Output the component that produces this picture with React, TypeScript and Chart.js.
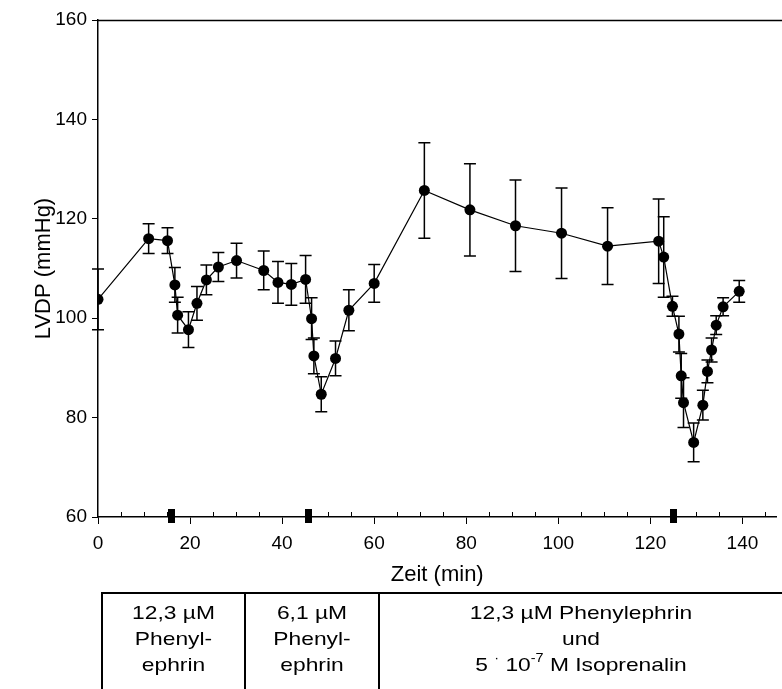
import React, { useEffect, useRef } from "react";
import { Chart, registerables } from "chart.js";

Chart.register(...registerables);

// Time (min) of each measurement
const times = [
  0, 11, 15.1, 16.7, 17.3, 19.65, 21.5, 23.55, 26.15, 30.1, 36.0, 39.1, 42.0, 45.1,
  46.4, 46.9, 48.5, 51.6, 54.5, 60.0, 70.9, 80.8, 90.7, 100.7, 110.7, 121.8, 122.9,
  124.8, 126.2, 126.7, 127.2, 129.4, 131.4, 132.4, 133.3, 134.3, 135.8, 139.3,
];
// LVDP mean (mmHg)
const lvdp = [
  103.8, 116.0, 115.6, 106.7, 100.6, 97.7, 103.0, 107.7, 110.3, 111.6, 109.6, 107.2,
  106.8, 107.8, 99.9, 92.4, 84.7, 91.9, 101.6, 107.0, 125.7, 121.8, 118.6, 117.1,
  114.5, 115.5, 112.3, 102.4, 96.8, 88.4, 83.0, 75.0, 82.5, 89.3, 93.6, 98.6, 102.3,
  105.4,
];
// error (mmHg)
const errs = [
  6.1, 3.0, 2.6, 3.5, 3.6, 3.6, 3.4, 3.0, 2.9, 3.5, 3.9, 4.2, 4.2, 4.8, 4.2, 3.6, 3.5,
  3.5, 4.1, 3.8, 9.6, 9.3, 9.2, 9.1, 7.7, 8.5, 8.1, 2.0, 3.6, 4.5, 5.0, 3.9, 3.0, 2.3,
  2.4, 1.9, 1.8, 2.2,
];
// drug application marks on the time axis
const applicationTimes = [16.0, 45.8, 125.0];

const xTickValues = [0, 20, 40, 60, 80, 100, 120, 140];
const yTickValues = [60, 80, 100, 120, 140, 160];

const table1 = ["12,3 µM", "Phenyl-", "ephrin"];
const table2 = ["6,1 µM", "Phenyl-", "ephrin"];
const table3Line1 = "12,3 µM Phenylephrin";
const table3Line2 = "und";

const FONT = "'Liberation Sans', Arial, Helvetica, sans-serif";
const STRETCH = 1.2;

export default function App() {
  const ref = useRef<HTMLCanvasElement | null>(null);

  useEffect(() => {
    const canvas = ref.current;
    if (!canvas) return;

    const errorBars = {
      id: "errorBars",
      beforeDatasetsDraw(chart: any) {
        const { ctx } = chart;
        const xs = chart.scales.x;
        const ys = chart.scales.y;
        ctx.save();
        ctx.strokeStyle = "#000";
        ctx.lineWidth = 1.5;
        for (let i = 0; i < times.length; i++) {
          const x = xs.getPixelForValue(times[i]);
          const yt = ys.getPixelForValue(lvdp[i] + errs[i]);
          const yb = ys.getPixelForValue(lvdp[i] - errs[i]);
          ctx.beginPath();
          ctx.moveTo(x, yt);
          ctx.lineTo(x, yb);
          ctx.moveTo(x - 6, yt);
          ctx.lineTo(x + 6, yt);
          ctx.moveTo(x - 6, yb);
          ctx.lineTo(x + 6, yb);
          ctx.stroke();
        }
        ctx.restore();
      },
    };

    const extras = {
      id: "extras",
      afterDraw(chart: any) {
        const { ctx, chartArea } = chart;
        const xs = chart.scales.x;
        ctx.save();
        ctx.strokeStyle = "#000";
        ctx.fillStyle = "#000";
        // top frame line
        ctx.lineWidth = 1.5;
        ctx.beginPath();
        ctx.moveTo(chartArea.left, chartArea.top + 0.5);
        ctx.lineTo(chart.width, chartArea.top + 0.5);
        ctx.stroke();
        // minor ticks (inward)
        ctx.lineWidth = 1;
        ctx.beginPath();
        for (let t = 5; t <= xs.max; t += 5) {
          if (t % 20 === 0) continue;
          const x = Math.round(xs.getPixelForValue(t)) + 0.5;
          ctx.moveTo(x, chartArea.bottom);
          ctx.lineTo(x, chartArea.bottom - 5);
        }
        ctx.stroke();
        // application marks
        for (const t of applicationTimes) {
          const x = xs.getPixelForValue(t);
          ctx.fillRect(Math.round(x - 3.5), chartArea.bottom - 8, 7, 14);
        }
        // table
        const top = 593;
        const cols = [102, 245, 379];
        ctx.lineWidth = 2;
        ctx.beginPath();
        ctx.moveTo(cols[0] - 1, top);
        ctx.lineTo(chart.width + 2, top);
        for (const c of cols) {
          ctx.moveTo(c, top);
          ctx.lineTo(c, chart.height + 2);
        }
        ctx.stroke();

        const normal = `19px ${FONT}`;
        const sup = `12px ${FONT}`;
        const drawText = (s: string, cx: number, cy: number, font: string, align: CanvasTextAlign) => {
          ctx.save();
          ctx.font = font;
          ctx.textAlign = align;
          ctx.textBaseline = "middle";
          ctx.translate(cx, cy);
          ctx.scale(STRETCH, 1);
          ctx.fillText(s, 0, 0);
          ctx.restore();
        };
        const rowsY = [614, 640, 666];
        const c1 = (cols[0] + cols[1]) / 2;
        const c2 = (cols[1] + cols[2]) / 2;
        const c3 = 581;
        table1.forEach((s, i) => drawText(s, c1, rowsY[i], normal, "center"));
        table2.forEach((s, i) => drawText(s, c2, rowsY[i], normal, "center"));
        drawText(table3Line1, c3, rowsY[0], normal, "center");
        drawText(table3Line2, c3, rowsY[1], normal, "center");
        // "5 · 10^-7 M Isoprenalin"
        const parts: [string, boolean][] = [
          ["5 ", false],
          ["·", true],
          [" 10", false],
          ["-7", true],
          [" M Isoprenalin", false],
        ];
        let total = 0;
        for (const [s, isSup] of parts) {
          ctx.font = isSup ? sup : normal;
          total += ctx.measureText(s).width * STRETCH;
        }
        let x = c3 - total / 2;
        for (const [s, isSup] of parts) {
          const f = isSup ? sup : normal;
          drawText(s, x, isSup ? rowsY[2] - 7 : rowsY[2], f, "left");
          ctx.font = f;
          x += ctx.measureText(s).width * STRETCH;
        }
        ctx.restore();
      },
    };

    const chart = new Chart(canvas, {
      type: "scatter",
      data: {
        datasets: [
          {
            data: times.map((t, i) => ({ x: t, y: lvdp[i] })),
            showLine: true,
            borderColor: "#000",
            borderWidth: 1.2,
            backgroundColor: "#000",
            pointBackgroundColor: "#000",
            pointBorderColor: "#000",
            pointRadius: 5.5,
            pointBorderWidth: 0,
            tension: 0,
          },
        ],
      },
      options: {
        animation: false,
        responsive: false,
        devicePixelRatio: 1,
        layout: { padding: { left: 0, right: 0, top: 20, bottom: 96 } },
        plugins: {
          legend: { display: false },
          tooltip: { enabled: false },
        },
        scales: {
          x: {
            type: "linear",
            min: 0,
            max: 147.4,
            afterFit(scale: any) {
              scale.height = 76;
            },
            afterBuildTicks(scale: any) {
              scale.ticks = xTickValues.map((v) => ({ value: v }));
            },
            ticks: {
              color: "#000",
              font: { family: FONT, size: 19 },
              padding: 8,
              maxRotation: 0,
              autoSkip: false,
              includeBounds: false,
            },
            grid: {
              drawOnChartArea: false,
              drawTicks: true,
              tickLength: 7,
              color: "#000",
              lineWidth: 1,
            },
            border: { display: true, color: "#000", width: 1.5 },
            title: {
              display: true,
              text: "Zeit (min)",
              color: "#000",
              font: { family: FONT, size: 22 },
              padding: { top: 0, bottom: 5 },
            },
          },
          y: {
            type: "linear",
            min: 60,
            max: 160,
            afterFit(scale: any) {
              scale.width = 98;
            },
            afterBuildTicks(scale: any) {
              scale.ticks = yTickValues.map((v) => ({ value: v }));
            },
            ticks: {
              color: "#000",
              font: { family: FONT, size: 19 },
              padding: 5,
            },
            grid: {
              drawOnChartArea: false,
              drawTicks: true,
              tickLength: 6,
              color: "#000",
              lineWidth: 1,
            },
            border: { display: true, color: "#000", width: 1.5 },
            title: {
              display: true,
              text: "LVDP (mmHg)",
              color: "#000",
              font: { family: FONT, size: 22 },
              padding: { top: 31, bottom: 0 },
            },
          },
        },
      },
      plugins: [errorBars, extras],
    } as any);

    return () => chart.destroy();
  }, []);

  return (
    <div style={{ position: "absolute", left: 0, top: 0, width: 782, height: 689, background: "#fff" }}>
      <canvas ref={ref} width={782} height={689} style={{ width: 782, height: 689, display: "block" }} />
    </div>
  );
}
